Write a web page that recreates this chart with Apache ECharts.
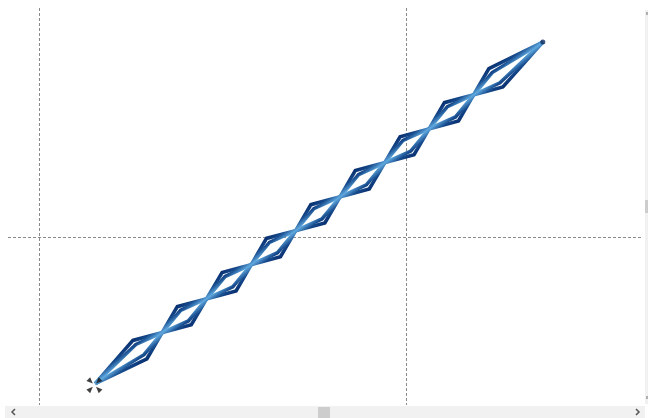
<!DOCTYPE html>
<html><head><meta charset="utf-8">
<script src="https://cdn.jsdelivr.net/npm/echarts@6/dist/echarts.min.js"></script>
<style>html,body{margin:0;padding:0;background:#fff;overflow:hidden}#c{width:648px;height:418px}</style>
</head><body><div id="c"></div>
<script>
// axis ranges (data units) and tick step
const xRange = [-8.45, 164.6];
const yRange = [-45.8, 62.4];
const tickStep = 100;

// chain end points
const startPoint = [15.3, -40.0];
const endPoint = [137.3, 53.1];
const handlePoint = [15.1, -40.4];

// vertices of the four zigzag strands
const outerA = [[25.6,-28.2],[41.5,-23.9],[49.9,-9.7],[65.8,-5.4],[74.1,8.8],[90.0,13.1],[98.4,27.3],[114.3,31.6],[122.6,45.9]];
const outerB = [[29.4,-33.2],[37.7,-19.0],[53.7,-14.7],[62.0,-0.4],[77.9,3.8],[86.2,18.1],[102.2,22.4],[110.5,36.6],[126.4,40.9]];
const innerA = [[26.4,-29.3],[40.7,-22.9],[50.7,-10.8],[65.0,-4.3],[74.9,7.7],[89.2,14.2],[99.2,26.3],[113.5,32.7],[123.5,44.8]];
const innerB = [[28.6,-32.1],[38.6,-20.0],[52.8,-13.6],[62.8,-1.5],[77.1,4.9],[87.1,17.0],[101.3,23.4],[111.3,35.5],[125.6,42.0]];

const chart = echarts.init(document.getElementById('c'), null, {renderer: 'canvas'});
const strands = [outerA, outerB, innerA, innerB];
const splitStyle = {show: true, showMinLine: false, showMaxLine: false, lineStyle: {color: '#8a8a8a', type: [3, 2], width: 1}};
function axis(r) {
  return {type: 'value', min: r[0], max: r[1], minInterval: tickStep, maxInterval: tickStep,
    axisLine: {show: false}, axisTick: {show: false}, axisLabel: {show: false}, splitLine: splitStyle};
}
function buildSeries(color) {
  const s = strands.map(function (v, i) {
    return {type: 'line', data: [startPoint].concat(v, [endPoint]), showSymbol: false, symbol: 'none',
      silent: true, z: 2 + (i < 2 ? 0 : 1),
      lineStyle: {width: 3.6, color: color, join: 'miter', cap: 'butt'}};
  });
  s.push({type: 'scatter', data: [endPoint], symbol: 'circle', symbolSize: 5, z: 5, silent: true,
    itemStyle: {color: '#0b2a5e'}});
  s.push({type: 'scatter', data: [handlePoint], z: 6, silent: true, symbolSize: 16,
    symbol: 'path://M6.5,6.5L0.5,4L4,0.5Z M9.5,6.5L15.5,4L12,0.5Z M6.5,9.5L0.5,12L4,15.5Z M9.5,9.5L15.5,12L12,15.5Z',
    itemStyle: {color: '#111'}});
  return s;
}
const graphics = [
  {type: 'rect', shape: {x: 5, y: 406, width: 640, height: 12}, style: {fill: '#f1f1f1'}, silent: true},
  {type: 'rect', shape: {x: 318, y: 407, width: 12, height: 11}, style: {fill: '#cdcdcd'}, silent: true},
  {type: 'polyline', shape: {points: [[15, 409], [12, 412], [15, 415]]}, style: {stroke: '#555', lineWidth: 1.5, fill: null}, silent: true},
  {type: 'polyline', shape: {points: [[636, 409], [639, 412], [636, 415]]}, style: {stroke: '#555', lineWidth: 1.5, fill: null}, silent: true},
  {type: 'rect', shape: {x: 645, y: 10, width: 3, height: 394}, style: {fill: '#f1f1f1'}, silent: true},
  {type: 'rect', shape: {x: 645, y: 200, width: 3, height: 13}, style: {fill: '#cdcdcd'}, silent: true},
  {type: 'rect', shape: {x: 646, y: 12, width: 2, height: 3}, style: {fill: '#b0b0b0'}, silent: true},
  {type: 'rect', shape: {x: 646, y: 396, width: 2, height: 3}, style: {fill: '#b0b0b0'}, silent: true}
];
const base = {
  animation: false,
  grid: {left: 8, right: 5, top: 8, bottom: 13, containLabel: false},
  xAxis: axis(xRange),
  yAxis: axis(yRange),
  graphic: graphics,
  series: buildSeries('#2b6cb0')
};
chart.setOption(base);
// perpendicular gradient across the chain (pixel space)
const p0 = chart.convertToPixel({gridIndex: 0}, startPoint);
const p1 = chart.convertToPixel({gridIndex: 0}, endPoint);
const dx = p1[0] - p0[0], dy = p1[1] - p0[1], len = Math.hypot(dx, dy);
const nx = -dy / len, ny = dx / len;
const cx = (p0[0] + p1[0]) / 2, cy = (p0[1] + p1[1]) / 2, w = 16;
const grad = new echarts.graphic.LinearGradient(cx - nx * w, cy - ny * w, cx + nx * w, cy + ny * w, [
  {offset: 0, color: '#08306b'}, {offset: 0.14, color: '#0a3374'}, {offset: 0.3, color: '#164a8c'},
  {offset: 0.5, color: '#5fa8de'}, {offset: 0.7, color: '#164a8c'}, {offset: 0.86, color: '#0a3374'},
  {offset: 1, color: '#08306b'}], true);
chart.setOption({series: buildSeries(grad)});
</script></body></html>
